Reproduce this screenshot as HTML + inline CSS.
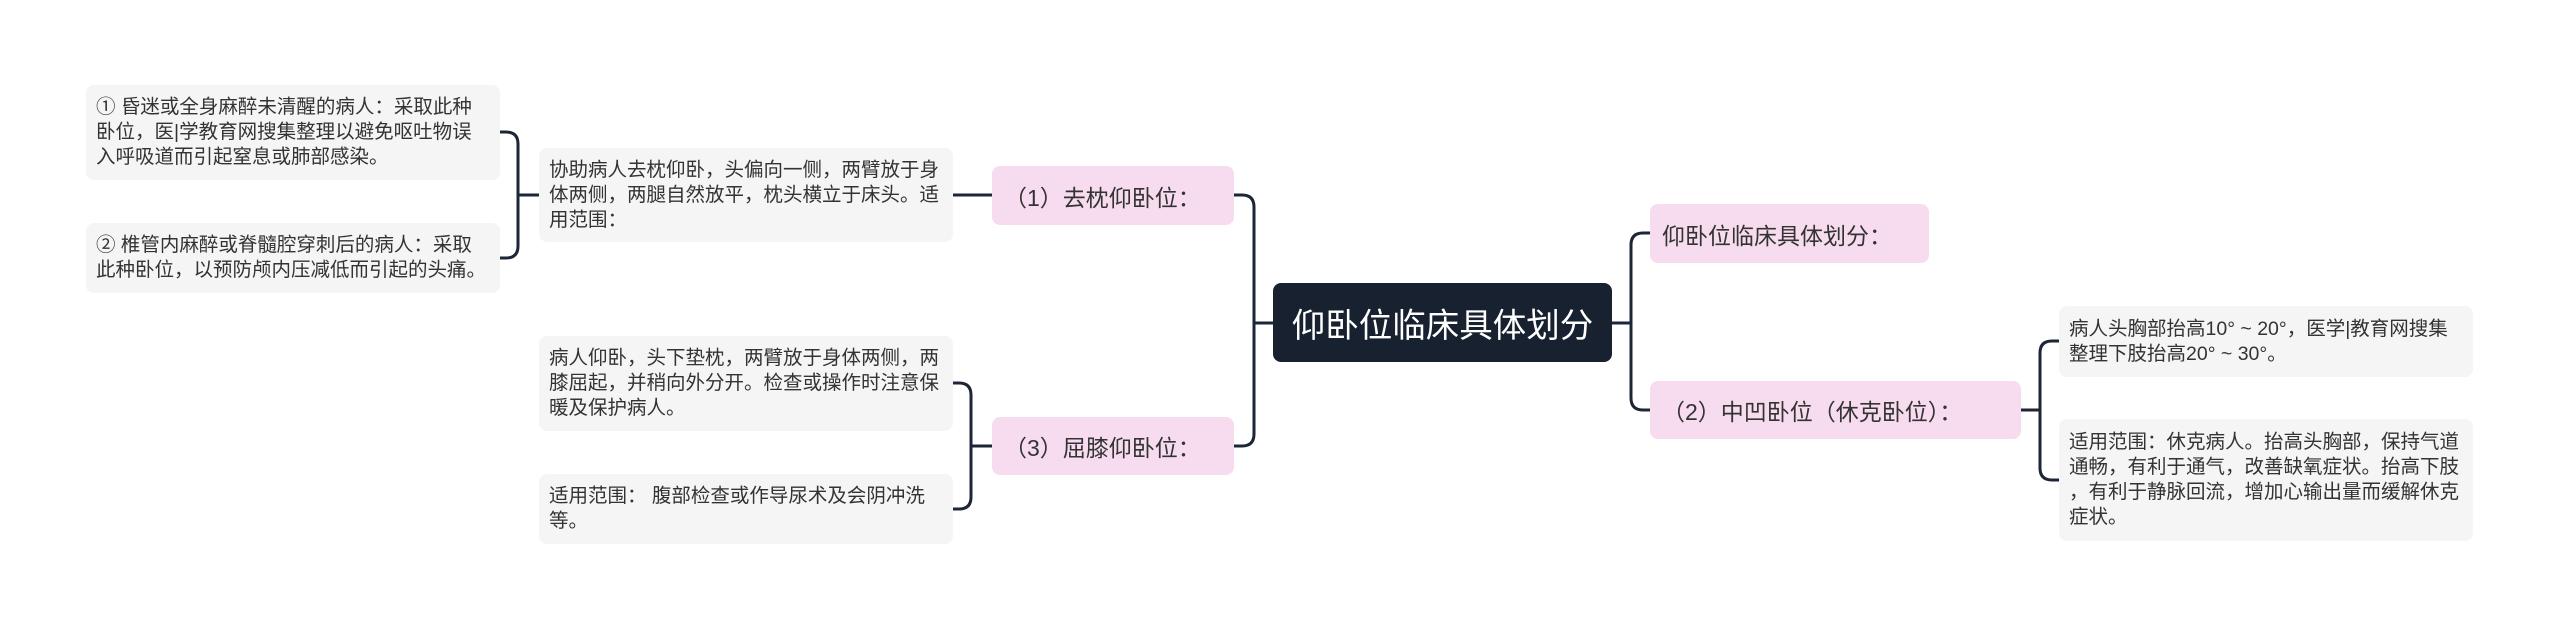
<!DOCTYPE html>
<html><head><meta charset="utf-8"><style>
body{margin:0;width:2560px;height:632px;background:#fff;position:relative;overflow:hidden;font-family:"Liberation Sans","Noto Sans CJK SC",sans-serif;}
.b{position:absolute;box-sizing:border-box;display:flex;align-items:center;}
.leaf{background:#f5f5f5;border-radius:8px;color:#333;font-size:19.5px;line-height:25px;padding:0 10px;}
.pink{background:#f7dcef;border-radius:8px;color:#333;font-size:23px;padding:0 12px;}
.root{background:#17212f;border-radius:8px;color:#fff;font-size:33.5px;justify-content:center;}
svg{position:absolute;left:0;top:0;}
</style></head><body>
<svg width="2560" height="632"><g fill="none" stroke="#1c2636" stroke-width="3" stroke-linecap="round">
<path d="M1273 323 H1254"/>
<path d="M1254 323 V207 Q1254 195 1242 195 H1234"/>
<path d="M1254 323 V434 Q1254 446 1242 446 H1234"/>
<path d="M1612 323 H1631"/>
<path d="M1631 323 V245 Q1631 233 1643 233 H1650"/>
<path d="M1631 323 V398 Q1631 410 1643 410 H1650"/>
<path d="M2021 410 H2040"/>
<path d="M2040 410 V353 Q2040 341 2052 341 H2059"/>
<path d="M2040 410 V468 Q2040 480 2052 480 H2059"/>
<path d="M992 195 H953"/>
<path d="M539 195 H518"/>
<path d="M518 195 V144 Q518 132 506 132 H500"/>
<path d="M518 195 V246 Q518 258 506 258 H500"/>
<path d="M992 446 H971"/>
<path d="M971 446 V395 Q971 383 959 383 H953"/>
<path d="M971 446 V497 Q971 509 959 509 H953"/>
</g></svg>
<div class="b root" style="left:1273px;top:283px;width:339px;height:79px;">仰卧位临床具体划分</div>
<div class="b pink" style="left:1650px;top:204px;width:279px;height:59px;">仰卧位临床具体划分：</div>
<div class="b pink" style="left:1650px;top:381px;width:371px;height:58px;">（2）中凹卧位（休克卧位）：</div>
<div class="b leaf" style="left:2059px;top:306px;width:414px;height:71px;">病人头胸部抬高10° ~ 20°，医学|教育网搜集<br>整理下肢抬高20° ~ 30°。</div>
<div class="b leaf" style="left:2059px;top:419px;width:414px;height:122px;">适用范围：休克病人。抬高头胸部，保持气道<br>通畅，有利于通气，改善缺氧症状。抬高下肢<br>，有利于静脉回流，增加心输出量而缓解休克<br>症状。</div>
<div class="b pink" style="left:992px;top:166px;width:242px;height:59px;">（1）去枕仰卧位：</div>
<div class="b pink" style="left:992px;top:417px;width:242px;height:58px;">（3）屈膝仰卧位：</div>
<div class="b leaf" style="left:539px;top:148px;width:414px;height:94px;">协助病人去枕仰卧，头偏向一侧，两臂放于身<br>体两侧，两腿自然放平，枕头横立于床头。适<br>用范围：</div>
<div class="b leaf" style="left:86px;top:85px;width:414px;height:95px;">① 昏迷或全身麻醉未清醒的病人：采取此种<br>卧位，医|学教育网搜集整理以避免呕吐物误<br>入呼吸道而引起窒息或肺部感染。</div>
<div class="b leaf" style="left:86px;top:223px;width:414px;height:70px;">② 椎管内麻醉或脊髓腔穿刺后的病人：采取<br>此种卧位，以预防颅内压减低而引起的头痛。</div>
<div class="b leaf" style="left:539px;top:336px;width:414px;height:95px;">病人仰卧，头下垫枕，两臂放于身体两侧，两<br>膝屈起，并稍向外分开。检查或操作时注意保<br>暖及保护病人。</div>
<div class="b leaf" style="left:539px;top:474px;width:414px;height:70px;">适用范围： 腹部检查或作导尿术及会阴冲洗<br>等。</div>
</body></html>
